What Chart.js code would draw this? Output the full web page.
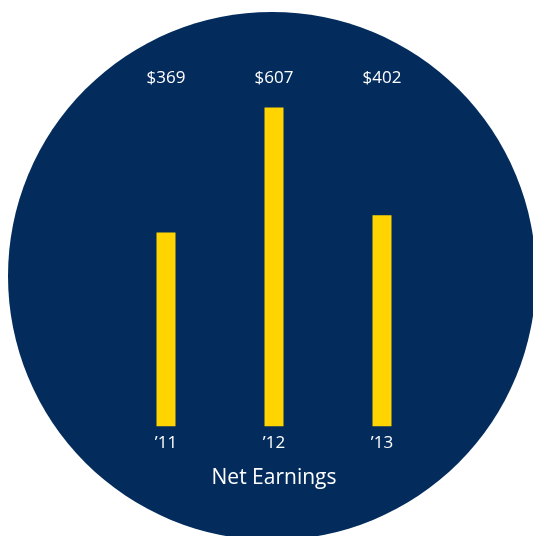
<!DOCTYPE html>
<html>
<head>
<meta charset="utf-8">
<script src="https://cdn.jsdelivr.net/npm/chart.js@4"></script>
<style>
  html, body { margin: 0; padding: 0; background: #ffffff; }
  #wrap { width: 533px; height: 536px; }
</style>
</head>
<body>
<div id="wrap"><canvas id="earnings"></canvas></div>
<script>
var years = ['\u201911', '\u201912', '\u201913'];
var netEarnings = [369, 607, 402];
var valueLabels = ['$369', '$607', '$402'];

var navy = '#032c5d';
var gold = '#ffd400';
var textFont = "'Open Sans', sans-serif";

// dark round backdrop behind the whole chart
var circleBackground = {
    id: 'circleBackground',
    beforeDraw: function (chart) {
        var ctx = chart.ctx;
        ctx.save();
        ctx.fillStyle = '#ffffff';
        ctx.fillRect(0, 0, chart.width, chart.height);
        ctx.beginPath();
        ctx.arc(272, 276, 264, 0, Math.PI * 2);
        ctx.fillStyle = navy;
        ctx.fill();
        ctx.restore();
    }
};

// dollar amounts printed in one row above the bars
var topValues = {
    id: 'topValues',
    afterDatasetsDraw: function (chart) {
        var ctx = chart.ctx;
        var xScale = chart.scales.x;
        ctx.save();
        ctx.fillStyle = '#ffffff';
        ctx.font = '17px ' + textFont;
        ctx.textAlign = 'center';
        ctx.textBaseline = 'middle';
        valueLabels.forEach(function (label, i) {
            ctx.fillText(label, xScale.getPixelForValue(i), chart.chartArea.top - 7);
        });
        ctx.restore();
    }
};

window.addEventListener('load', function () {
    var ctx = document.getElementById('earnings').getContext('2d');
    new Chart(ctx, {
        type: 'bar',
        data: {
            labels: years,
            datasets: [
                {
                    label: 'Net Earnings',
                    data: netEarnings,
                    backgroundColor: gold,
                    borderWidth: 0,
                    barPercentage: 0.176,
                    categoryPercentage: 1
                }
            ]
        },
        options: {
            responsive: true,
            maintainAspectRatio: false,
            animation: false,
            layout: {
                padding: { left: 112, right: 97, top: 85, bottom: 41 }
            },
            plugins: {
                legend: { display: false },
                tooltip: { enabled: false }
            },
            scales: {
                x: {
                    grid: { display: false, drawTicks: false },
                    border: { display: false },
                    ticks: {
                        color: '#ffffff',
                        padding: 7,
                        font: { family: textFont, size: 17 }
                    },
                    title: {
                        display: true,
                        text: 'Net Earnings',
                        color: '#ffffff',
                        padding: { top: 5, bottom: 4 },
                        font: { family: textFont, size: 21 }
                    }
                },
                y: {
                    display: false,
                    min: 0,
                    max: 650
                }
            }
        },
        plugins: [circleBackground, topValues]
    });
});
</script>
</body>
</html>
